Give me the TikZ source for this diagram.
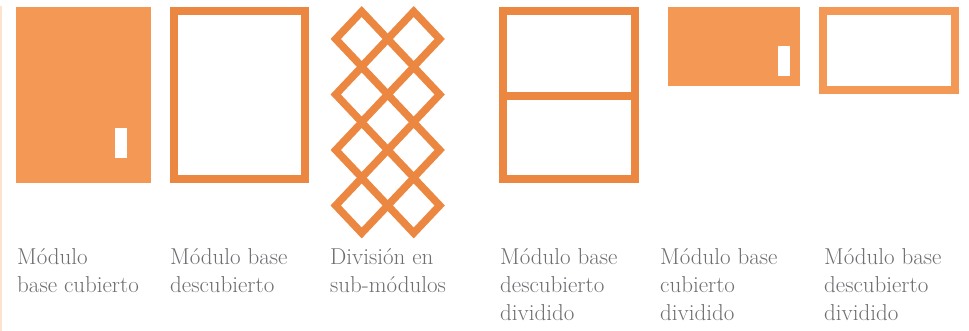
\documentclass[tikz,border=0pt]{standalone}
\usepackage{tikz}
\definecolor{fillorange}{HTML}{F39955}
\definecolor{lineorange}{HTML}{EC8742}
\definecolor{textgray}{HTML}{6D6E71}
\definecolor{edgepeach}{HTML}{FDE3CC}

\begin{document}
\begin{tikzpicture}[x=1pt,y=-1pt,
  label/.style={anchor=north west,inner sep=0pt,align=left,text=textgray,
    font=\fontsize{23}{28}\selectfont,execute at begin node=\rule{0pt}{20pt}},
  frame/.style={draw=lineorange,line width=8pt,miter limit=10},
  hole/.style={fill=white}]
  \useasboundingbox (0,0) rectangle (969,331);
  \draw[edgepeach,line width=1.5pt] (0.75,6) -- (0.75,331);

  % modules
  \fill[fillorange] (16,7) rectangle (151,183);
  \fill[hole] (115,128) rectangle (127,158);
  \draw[frame] (174,11) rectangle (305,179);
  \foreach \r in {0,...,3}
    \foreach \c in {0,1}
      \draw[frame,line width=7.5pt,line join=miter]
        ({361.7+52*\c-26},{39+55.5*\r}) -- ({361.7+52*\c},{39+55.5*\r-27.5})
        -- ({361.7+52*\c+26},{39+55.5*\r}) -- ({361.7+52*\c},{39+55.5*\r+27.5}) -- cycle;
  \draw[frame] (503.3,11) rectangle (635,179);
  \draw[frame] (499.3,96) -- (639,96);
  \fill[fillorange] (668.3,7) rectangle (799.7,86);
  \fill[hole] (777.7,46) rectangle (790,76);
  \draw[frame,draw=fillorange] (823.3,11) rectangle (955,90);

  % labels
  \node[label] (l1) at (17,248)  {Módulo\\base cubierto};
  \node[label] (l2) at (170,248) {Módulo base\\descubierto};
  \node[label] (l3) at (330,248) {División en\\sub-módulos};
  \node[label] (l4) at (500,248) {Módulo base\\descubierto\\dividido};
  \node[label] (l5) at (660,248) {Módulo base\\cubierto\\dividido};
  \node[label] (l6) at (824,248) {Módulo base\\descubierto\\dividido};
\end{tikzpicture}
\end{document}
